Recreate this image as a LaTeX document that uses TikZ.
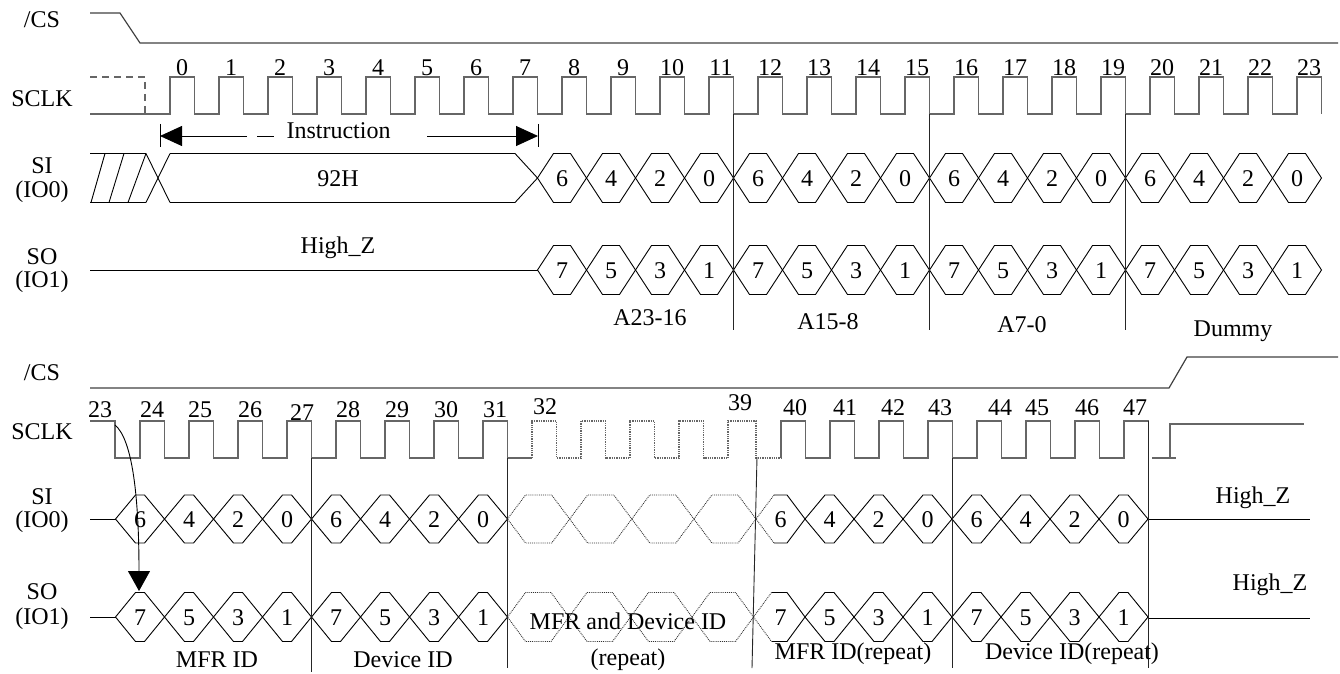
\documentclass[tikz,border=0pt]{standalone}
\usepackage{fontspec}
\setmainfont{Liberation Serif}
\usetikzlibrary{arrows.meta}
\newcommand{\mkhex}[6][sig]{% [style] L R mid halfh dx
  \draw[#1] (#2,#4) -- ({#2+#6},{#4-#5}) -- ({#3-#6},{#4-#5}) -- (#3,#4) -- ({#3-#6},{#4+#5}) -- ({#2+#6},{#4+#5}) -- cycle;}
\newcommand{\mkhexB}[5]{% L R mid halfh dx : left slopes dotted
  \draw[sig] ({#1+#5},{#3-#4}) -- ({#2-#5},{#3-#4}) -- (#2,#3) -- ({#2-#5},{#3+#4}) -- ({#1+#5},{#3+#4});
  \draw[dotsig] ({#1+#5},{#3-#4}) -- (#1,#3) -- ({#1+#5},{#3+#4});}
\begin{document}
\begin{tikzpicture}[x=1pt,y=-1pt,
  txt/.style={inner sep=0pt, font=\fontsize{24}{28}\selectfont},
  clk/.style={line width=1.3pt, black!60},
  cs/.style={line width=1.2pt, black!75},
  sig/.style={line width=0.9pt, black},
  dotsig/.style={line width=0.9pt, black!80, densely dotted},
  divl/.style={line width=0.9pt, black!85},
  bigtip/.style={-{Triangle[length=22pt,width=20pt]}}
]
\useasboundingbox (0,0) rectangle (1340,674);

% ================= TOP HALF =================
% left labels
\node[txt] (lcs1) at (42,20) {/CS};
\node[txt] (lclk1) at (42,99) {SCLK};
\node[txt] (lsi1) at (42,166) {SI};
\node[txt] (lio01) at (42,192) {(IO0)};
\node[txt] (lso1) at (42,257) {SO};
\node[txt] (lio11) at (42,282) {(IO1)};

% /CS
\draw[cs] (90,13) -- (120,13) -- (140,43) -- (1338,43);

% SCLK
\draw[clk, dash pattern=on 7pt off 5pt] (90,77) -- (145,77) -- (145,114);
\draw[clk] (90,114) foreach \n in {0,...,23} { -- ({170+49*\n},114) -- ++(0,-37) -- ++(24.5,0) -- ++(0,37) };
\foreach \n in {0,...,23} \node[txt] (tn\n) at ({182+49*\n},68) {\n};

% Instruction arrow
\node[txt] (instr) at (338.5,131) {Instruction};
\coordinate (ial) at (160,136);
\coordinate (iar) at (538,136);
\draw[sig] (160,124) -- (160,147);
\draw[sig] (538,124) -- (538,147);
\draw[sig, bigtip] (247,136) -- (ial);
\draw[sig] (257,136) -- (274,136);
\draw[sig, bigtip] (427,136) -- (iar);

% SI top
\draw[sig] (90,153.5) -- (146,153.5);
\draw[sig] (90,202.5) -- (146,202.5);
\draw[sig] (91,202.5) -- (105,153.5);
\draw[sig] (109,202.5) -- (124,153.5);
\draw[sig] (128,202.5) -- (146,153.5);
\draw[sig] (146,153.5) -- (170,202.5);
\draw[sig] (146,202.5) -- (170,153.5);
\draw[sig] (170,153.5) -- (515,153.5) -- (537.5,178) -- (515,202.5) -- (170,202.5);
\node[txt] (h92) at (338,179) {92H};
\foreach \i in {0,...,15}{
  \pgfmathsetmacro\L{537.5+49*\i}
  \pgfmathsetmacro\R{\L+49}
  \pgfmathtruncatemacro\d{6-2*mod(\i,4)}
  \mkhex{\L}{\R}{178}{24.5}{16}
  \node[txt] (tsi\i) at ({\L+24.5},179) {\d};
}

% SO top
\draw[sig] (90,270) -- (537.5,270);
\node[txt] (hz1) at (338,248) {High\_Z};
\foreach \i in {0,...,15}{
  \pgfmathsetmacro\L{537.5+49*\i}
  \pgfmathsetmacro\R{\L+49}
  \pgfmathtruncatemacro\d{7-2*mod(\i,4)}
  \mkhex{\L}{\R}{270}{24.5}{16}
  \node[txt] (tso\i) at ({\L+24.5},271) {\d};
}

% dividers top
\draw[divl] (733.5,114) -- (733.5,330);
\draw[divl] (929.5,114) -- (929.5,330);
\draw[divl] (1125.5,114) -- (1125.5,330);

\node[txt] (a23) at (650,318) {A23-16};
\node[txt] (a15) at (828,322) {A15-8};
\node[txt] (a7) at (1022,325) {A7-0};
\node[txt] (dum) at (1233,331) {Dummy};

% ================= BOTTOM HALF =================
\node[txt] (lcs2) at (42,373) {/CS};
\node[txt] (lclk2) at (42,432) {SCLK};
\node[txt] (lsi2) at (42,497) {SI};
\node[txt] (lio02) at (42,522) {(IO0)};
\node[txt] (lso2) at (42,592) {SO};
\node[txt] (lio12) at (42,619) {(IO1)};

% /CS
\draw[cs] (90,388) -- (1169,388) -- (1187,357) -- (1338,357);

% SCLK
\draw[clk] (90,421) -- (115,421) -- (115,458) foreach \n in {0,...,7} { -- ({140+49*\n},458) -- ++(0,-37) -- ++(24.5,0) -- ++(0,37) } -- (532,458);
\draw[clk, densely dotted] (532,458) foreach \n in {0,...,3} { -- ({532+49*\n},458) -- ++(0,-37) -- ++(24.5,0) -- ++(0,37) } -- (728,458) -- (728,421) -- (756,421) -- (756,458) -- (781,458);
\draw[clk] (781,458) foreach \n in {0,...,7} { -- ({781+49*\n},458) -- ++(0,-37) -- ++(24.5,0) -- ++(0,37) };
\draw[clk] (1152,458) -- (1176,458);
\draw[clk] (1170,458) -- (1170,424) -- (1304,424);

\foreach \x/\y/\t in {100/410/23, 152/410/24, 200/410/25, 250/410/26, 302/413/27, 348/410/28, 397/410/29, 446/410/30, 495/410/31, 545/407/32, 740/403/39, 795/408/40, 845/408/41, 893/408/42, 940/408/43, 1000/408/44, 1037/408/45, 1087/408/46, 1135/408/47}
  \node[txt] (bn\t) at (\x,\y) {\t};

% SI bottom
\draw[sig] (90,519) -- (115.5,519);
\foreach \i in {0,...,7}{
  \pgfmathsetmacro\L{115.5+49*\i}
  \pgfmathsetmacro\R{\L+49}
  \pgfmathtruncatemacro\d{6-2*mod(\i,4)}
  \mkhex{\L}{\R}{519}{24}{20}
  \node[txt] (bsia\i) at ({\L+24.5},520) {\d};
}
\foreach \i in {0,...,3}{
  \pgfmathsetmacro\L{507.5+62.125*\i}
  \pgfmathsetmacro\R{\L+62.125}
  \mkhex[dotsig]{\L}{\R}{519}{24}{18}
}
\mkhexB{756}{805}{519}{24}{18}
\foreach \i in {1,...,7}{
  \pgfmathsetmacro\L{756+49*\i}
  \pgfmathsetmacro\R{\L+49}
  \mkhex{\L}{\R}{519}{24}{20}
}
\foreach \i in {0,...,7}{
  \pgfmathsetmacro\L{756+49*\i}
  \pgfmathtruncatemacro\d{6-2*mod(\i,4)}
  \node[txt] (bsib\i) at ({\L+24.5},520) {\d};
}
\draw[sig] (1148,519) -- (1310,519);
\node[txt] (hz2) at (1253,498) {High\_Z};

% SO bottom
\draw[sig] (90,617) -- (115.5,617);
\foreach \i in {0,...,7}{
  \pgfmathsetmacro\L{115.5+49*\i}
  \pgfmathsetmacro\R{\L+49}
  \pgfmathtruncatemacro\d{7-2*mod(\i,4)}
  \mkhex{\L}{\R}{617}{24.5}{20}
  \node[txt] (bsoa\i) at ({\L+24.5},618) {\d};
}
\foreach \i in {0,...,3}{
  \pgfmathsetmacro\L{507.5+61.5*\i}
  \pgfmathsetmacro\R{\L+61.5}
  \mkhex[dotsig]{\L}{\R}{617}{24.5}{18}
}
\mkhexB{753.5}{805}{617}{24.5}{18}
\foreach \i in {1,...,7}{
  \pgfmathsetmacro\L{756+49*\i}
  \pgfmathsetmacro\R{\L+49}
  \mkhex{\L}{\R}{617}{24.5}{20}
}
\foreach \i in {0,...,7}{
  \pgfmathsetmacro\L{756+49*\i}
  \pgfmathtruncatemacro\d{7-2*mod(\i,4)}
  \node[txt] (bsob\i) at ({\L+24.5},618) {\d};
}
\draw[sig] (1148,618) -- (1310,618);
\node[txt] (hz3) at (1270,585) {High\_Z};

% dividers bottom
\draw[divl] (311.5,458) -- (311.5,672);
\draw[divl] (507.5,458) -- (507.5,668);
\draw[divl] (757,457) -- (752,668);
\draw[divl] (952.5,458) -- (952.5,668);
\draw[divl] (1148.5,421) -- (1148.5,668);

% bottom labels
\node[txt] (mfr) at (217,660) {MFR ID};
\node[txt] (dev) at (403,660) {Device ID};
\node[txt] (mfrdev) at (628,621) {MFR and Device ID};
\node[txt] (rep) at (628,660) {(repeat)};
\node[txt] (mfrr) at (853,654) {MFR ID(repeat)};
\node[txt] (devr) at (1072,654) {Device ID(repeat)};

% curved arrow
\coordinate (ca) at (115,425);
\coordinate (cb) at (139,591);
\draw[sig, -{Triangle[length=20pt,width=22pt]}] (ca) .. controls (133,440) and (139,500) .. (cb);
\end{tikzpicture}
\end{document}
